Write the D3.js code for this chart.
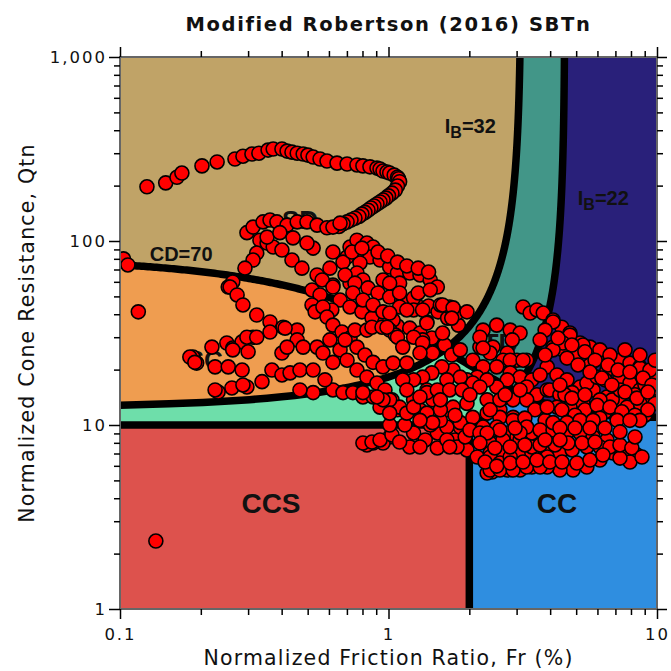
<!DOCTYPE html>
<html>
<head>
<meta charset="utf-8">
<script src="https://cdn.jsdelivr.net/npm/d3@7"></script>
<style>
  html, body { margin: 0; padding: 0; background: #ffffff; }
  svg { display: block; }
</style>
</head>
<body>
<svg id="chart" width="671" height="671"></svg>
<script>
// ---- CPT soundings plotted as [Fr (%), Qtn] ----
const outliers = [[0.103,80],[0.107,74.1],[0.117,41.2],[0.136,2.34]];

const arcUpper = [[0.126,197],[0.148,207],[0.163,222],[0.170,234],[0.202,256],[0.230,269],[0.268,279],
  [0.287,289],[0.310,297],[0.329,300],[0.356,312],[0.372,316],[0.401,316],[0.419,308],[0.437,304],
  [0.457,300],[0.481,297],[0.501,293],[0.524,286],[0.556,279],[0.590,272],[0.643,265],[0.701,262],
  [0.763,259],[0.803,256],[0.853,253],[0.906,249],[0.930,246],[0.954,240],[0.987,237],[1.01,234],
  [1.05,228],[1.08,222],[1.09,218],[1.10,210],[1.08,199]];

const arcReturn = [[1.06,189],[1.03,182],[1.00,176],[0.978,171],[0.954,167],[0.930,163],[0.906,159],
  [0.883,155],[0.860,151],[0.839,147],[0.817,143],[0.796,140],[0.776,136],[0.750,133],[0.725,130],
  [0.701,127],[0.677,124],[0.654,120]];

const sdCluster = [[0.297,111],[0.313,119],[0.341,127],[0.362,130],[0.384,127],[0.419,122],[0.457,127],
  [0.497,127],[0.542,122],[0.590,118],[0.621,119],[0.660,125],[0.332,101],[0.353,97.5],[0.372,92.7],
  [0.401,89.3],[0.437,78.8],[0.476,71.2],[0.542,65.4],[0.621,57.6],[0.524,91.5],[0.621,87.1],[0.701,81.8],
  [0.353,105],[0.394,111],[0.441,104],[0.497,97.5],[0.323,86.0],[0.313,78.8],[0.292,71.2],[0.263,59.9],
  [0.253,56.2]];

const cdCrossing = [[0.719,92.7],[0.763,101],[0.831,97.5],[0.876,92.7],[0.853,81.8],[0.930,78.8],
  [1.01,72.2],[1.08,67.0],[1.20,67.0],[1.31,65.4],[1.43,61.4],[1.52,56.2],[0.783,76.0],[0.763,67.0],
  [0.803,61.4],[0.954,61.4],[1.10,59.0],[0.719,59.0]];

const midBand = [[0.677,76.8],[0.731,87.1],[0.796,91.5],[0.914,87.1],[0.993,82.9],[1.08,76.8],[1.17,73.2],
  [1.29,71.2],[1.41,67.8],[0.689,65.4],[0.750,59.0],[0.839,55.6],[0.914,52.2],[1.01,49.6],[1.12,47.8],
  [1.26,46.0],[1.41,44.3],[1.53,41.2],[1.66,38.1],[1.82,34.9],[0.660,47.8],[0.719,43.8],[0.796,41.2],
  [0.868,38.1],[0.970,36.3],[1.08,34.5],[1.20,33.6],[1.31,31.6],[1.45,29.7],[1.62,27.2],[1.72,24.0],
  [0.605,71.2],[0.566,61.4],[0.519,54.2],[0.556,50.9],[0.615,42.2]];

const scTrace = [[0.257,56.2],[0.273,50.9],[0.287,44.9],[0.323,39.6],[0.362,36.3],[0.405,34.0],[0.457,32.8],
  [0.250,27.9],[0.263,26.2],[0.285,28.3],[0.300,25.0],[0.313,30.0],[0.220,26.5],[0.187,23.4],[0.193,21.7],
  [0.226,20.7],[0.253,20.7],[0.285,19.9],[0.297,16.1],[0.261,15.9],[0.232,15.1],[0.226,15.5],[0.338,17.2],
  [0.368,19.9],[0.401,18.7],[0.430,19.2],[0.468,19.9],[0.524,19.9],[0.401,24.6],[0.457,29.0],[0.362,32.0],
  [0.412,33.6],[0.519,44.9],[0.533,41.2],[0.570,43.8],[0.590,38.6],[0.621,34.9],[0.671,32.0],[0.719,29.7],
  [0.763,26.5],[0.817,24.0],[0.876,21.9],[0.954,20.7],[1.04,21.7],[0.621,56.2],[0.737,52.2],[0.803,47.8],
  [0.876,44.9],[0.954,41.2],[1.04,37.2],[0.605,29.0],[0.660,25.6],[0.701,22.5],[0.763,19.9],[0.831,18.2],
  [0.906,16.9],[0.970,15.5],[1.03,13.7],[1.08,12.1],[0.524,15.0],[0.621,15.5],[0.677,15.0],[0.737,15.0],
  [0.803,14.2],[0.876,14.2],[0.954,12.8],[0.287,16.5],[0.263,25.6],[0.182,23.4],[0.190,21.9],[0.297,30.0],
  [0.323,30.0],[0.419,26.5],[0.481,26.5],[0.542,26.5],[0.570,24.6],[0.621,21.9],[0.689,29.0],[0.750,32.8],
  [0.831,32.8],[0.868,34.0],[0.946,34.0],[1.01,32.8],[1.06,30.8]];

const lowTrace = [[1.01,8.61],[0.954,7.98],[0.876,7.98],[0.831,7.79],[0.803,7.98],[0.868,8.08],[0.930,8.29],
  [1.03,8.83],[1.24,9.05],[1.20,7.60],[1.52,9.05],[1.52,7.50],[1.77,8.29],[1.96,7.32],[1.80,7.60],
  [1.85,9.75],[1.65,9.75],[1.10,8.08],[1.37,8.29],[1.65,8.29],[1.93,8.61],[1.31,7.60],[1.69,7.60],
  [1.43,10.0],[1.15,10.0],[1.01,10.0]];

const transitionTrace = [[1.01,59.0],[1.10,52.2],[1.24,49.0],[1.29,52.2],[1.43,54.2],[1.56,44.9],[1.69,43.8],
  [1.80,40.6],[1.96,41.2],[1.39,36.3],[1.24,42.2],[1.10,43.8],[1.01,40.6],[0.987,34.0],[1.08,30.0],[1.34,29.0],
  [1.59,31.6],[1.85,25.6],[2.06,22.5],[2.25,20.7],[2.19,26.5],[2.25,32.8],[2.53,34.9],[2.84,32.8],[3.09,31.6],
  [2.45,26.5],[2.89,29.0],[2.77,24.6],[3.01,22.5],[3.27,22.5],[1.17,42.2],[1.34,42.2],[1.59,44.9],[1.74,43.3],
  [1.39,35.8],[1.72,38.1],[2.19,30.0],[2.39,24.6],[2.25,26.2],[2.67,22.5],[2.84,22.5],[3.17,22.5],[2.53,20.7],
  [2.84,19.2],[3.09,18.2],[3.42,17.6],[2.14,18.2],[1.96,17.6],[1.74,19.9],[1.58,20.7],[1.45,19.2],[1.34,18.2],
  [1.24,17.6],[1.13,17.6],[1.13,26.5],[1.24,30.0],[1.34,27.9],[1.46,24.6],[1.31,24.6],[1.17,21.7],[3.17,43.8],
  [3.37,40.6]];

const centerTrace = [[3.27,16.1],[3.57,14.6],[3.90,15.5],[2.77,17.6],[2.53,16.1],[2.33,17.6],[2.06,16.9],
  [1.85,18.2],[1.65,17.6],[1.52,15.0],[1.39,15.5],[1.24,13.7],[1.10,12.5],[1.01,13.7],[0.930,12.5],[1.65,12.1],
  [1.46,13.7],[1.39,15.0],[1.17,15.5],[0.954,13.7],[0.906,14.2],[0.803,15.0],[0.580,17.6],[0.468,15.5],
  [1.01,11.6],[1.17,11.6],[1.31,12.1],[1.56,10.6],[1.85,10.3],[2.06,11.0],[2.33,11.6],[2.60,12.1],[2.91,11.0],
  [1.52,15.5],[1.69,15.5],[1.88,15.5],[2.19,16.1],[2.33,13.7],[2.60,13.7],[2.91,13.7],[3.27,13.7],[1.96,13.1],
  [1.74,12.5],[1.56,12.1],[1.39,11.6],[1.24,12.5],[1.31,14.2],[1.46,10.3],[1.31,10.6],[2.60,11.0],[2.91,10.6],
  [2.25,9.75],[2.53,9.4],[2.77,9.05],[3.09,9.05],[3.42,9.05],[2.01,14.6],[2.39,12.1],[2.72,14.6],[3.09,15.5],
  [3.51,12.1],[3.83,10.6],[3.22,10.9],[2.01,9.4],[1.77,11.3],[1.56,13.7]];

const clayUpper = [[3.57,42.2],[3.77,40.6],[4.10,37.2],[4.42,34.0],[4.74,31.6],[5.17,27.9],[5.63,26.5],
  [6.13,23.4],[6.68,22.5],[7.28,22.5],[7.93,21.7],[8.64,20.7],[9.41,19.2],[9.84,18.2],[4.10,26.5],[4.46,25.6],
  [3.90,20.7],[4.24,18.7],[4.62,17.6],[5.17,16.1],[5.78,15.5],[6.51,14.2],[7.28,13.1],[8.14,12.5],[9.17,13.1],
  [9.67,14.2],[4.10,36.3],[4.74,30.8],[5.30,27.2],[6.13,25.6],[6.68,24.0],[8.64,20.4],[9.41,19.9],[4.46,27.9],
  [4.10,25.6],[3.99,15.5],[4.35,14.6],[4.83,15.0],[5.48,16.9],[5.98,18.2],[6.51,19.9],[7.28,18.2],[7.93,16.9],
  [8.64,15.5],[9.41,14.2],[9.84,13.1],[8.64,13.1],[7.73,12.5],[6.81,13.7],[6.13,13.7],[5.30,13.1],[4.74,12.5],
  [4.24,12.5],[3.90,12.5],[4.95,24.0],[5.63,21.2],[6.40,17.6],[7.28,15.5],[8.28,14.6],[9.02,16.5],[7.60,25.6],
  [8.64,24.0],[9.84,22.5],[4.54,14.6],[5.39,12.1],[6.40,11.8],[9.02,11.3],[9.84,15.9]];

const clayDense = [[3.83,32.8],[4.28,29.7],[4.82,27.2],[5.39,25.0],[5.88,22.5],[6.57,21.2],[7.16,19.9],
  [7.93,19.4],[8.87,18.0],[9.57,16.5],[4.62,23.1],[5.08,21.2],[5.63,19.4],[6.23,18.0],[6.79,16.5],[7.60,15.1],
  [8.42,14.0],[9.25,15.1],[4.35,16.5],[4.82,14.0],[5.39,14.6],[5.98,12.8],[6.68,12.5],[7.40,11.8],[8.28,11.3],
  [9.25,12.1],[3.67,29.0],[3.83,24.0],[3.67,18.7],[4.42,12.1],[4.95,11.3],[6.13,10.9],[8.64,10.6]];

const clayLower = [[2.53,9.75],[2.19,9.05],[2.39,7.98],[2.67,8.29],[3.01,8.61],[3.27,9.75],[3.67,9.4],
  [4.10,9.4],[4.62,9.05],[5.17,9.05],[5.78,8.61],[6.51,8.29],[6.86,7.04],[6.13,6.45],[5.48,5.91],[4.87,5.69],
  [4.35,5.69],[3.90,5.91],[3.42,5.91],[3.09,5.69],[2.77,5.69],[2.43,5.55],[2.33,5.48],[2.39,7.04],[2.67,7.04],
  [3.09,7.04],[3.42,7.04],[3.90,7.04],[4.35,7.04],[4.83,7.32],[5.48,7.60],[6.13,7.60],[6.68,7.60],[4.10,10.3],
  [4.62,10.3],[5.17,10.6],[5.78,10.6],[7.10,10.6],[7.93,10.6],[2.60,9.4],[2.33,9.05],[2.19,7.98],[2.14,6.70],
  [2.39,6.70],[2.60,6.21],[2.84,6.70],[3.09,8.29],[3.42,7.60],[3.90,6.70],[2.39,5.69],[2.60,5.69],[2.91,5.69],
  [3.27,5.91],[3.67,5.91],[3.09,9.05],[7.73,7.32],[8.42,6.87],[7.93,6.29]];

const ccDense = [[2.29,6.29],[2.53,5.98],[2.84,6.21],[3.17,6.29],[3.57,6.45],[3.99,6.29],[4.43,6.29],
  [5.03,6.21],[5.63,6.45],[6.29,6.87],[7.28,6.61],[2.49,7.50],[2.84,7.60],[3.22,7.79],[3.67,7.79],[4.17,7.79],
  [4.66,7.98],[5.26,7.98],[5.88,8.08],[7.28,7.79],[8.06,7.50],[2.96,9.63],[4.35,9.63],[4.95,9.63],[5.63,9.63],
  [6.40,9.63],[7.28,9.17],[8.28,8.61],[4.35,8.29],[3.83,8.29],[8.79,6.70]];

const soundings = [].concat(outliers, arcUpper, arcReturn, sdCluster, cdCrossing, midBand, scTrace, lowTrace,
  transitionTrace, centerTrace, clayUpper, clayDense, clayLower, ccDense);

// ---- axis ticks ----
const xMajor = [0.1, 1, 10];
const xTickLabels = ["0.1", "1", "10"];
const yMajor = [1, 10, 100, 1000];
const yTickLabels = ["1", "10", "100", "1,000"];

// ---- SBTn boundary parameters (Robertson 2016, modified) ----
const IB_SAND = 32, IB_CLAY = 22, CD_LIMIT = 70, QTN_CCS = 10, FR_CCS = 2;

// ---- zone styling ----
const zoneColors = { SD: "#c0a367", SC: "#ef9d50", TD: "#429688", TC: "#6edeaa",
                     CD: "#29207a", CC: "#2f8ee0", CCS: "#dd524d" };
const zoneLabels = [
  { text: "SD",  fr: 0.468, q: 116,  size: 26 },
  { text: "SC",  fr: 0.207, q: 20.1, size: 26 },
  { text: "TD",  fr: 2.60,  q: 24.6, size: 27 },
  { text: "CCS", fr: 0.365, q: 3.32, size: 28 },
  { text: "CC",  fr: 4.24,  q: 3.32, size: 28 }
];

const svg = d3.select("#chart");
const x = d3.scaleLog().domain([0.1, 10]).range([120, 657]);
const y = d3.scaleLog().domain([1, 1000]).range([609, 57]);
const [x0, x1] = x.range(), [y0, y1] = [y.range()[1], y.range()[0]];

const line = d3.line().x(d => x(d[0])).y(d => y(d[1]));

// boundary curves
const ibQ = (fr, ib) => (70 * ib - 1000) / (100 - ib * fr);
const ibFr = (q, ib) => (100 - (70 * ib - 1000) / q) / ib;
const cdQ = fr => 11 + CD_LIMIT / Math.pow(1 + 0.06 * fr, 17);
const steps = d3.range(0, 1.00001, 0.004);
const ibCurve = (ib, qStart) => steps.map(t => {
  const q = qStart * Math.pow(1000 / qStart, t);
  return [ibFr(q, ib), q];
});
const cdCurve = steps.map(t => { const fr = 0.1 * Math.pow(100, t); return [fr, cdQ(fr)]; });

const sandEdge = ibCurve(IB_SAND, ibQ(0.1, IB_SAND));
const clayEdge = ibCurve(IB_CLAY, ibQ(0.1, IB_CLAY));
const clayLine = ibCurve(IB_CLAY, QTN_CCS);

const sandPoly = sandEdge.concat([[0.1, 1000]]);
const clayPoly = [[0.1, 1]].concat(clayEdge, [[10, 1000], [10, 1]]);
const belowCD = cdCurve.concat([[10, 1], [0.1, 1]]);

const defs = svg.append("defs");
defs.append("clipPath").attr("id", "plotClip").append("rect")
  .attr("x", x0).attr("y", y0).attr("width", x1 - x0).attr("height", y1 - y0);
defs.append("clipPath").attr("id", "sandClip").append("path").attr("d", line(sandPoly) + "Z");
defs.append("clipPath").attr("id", "clayClip").append("path").attr("d", line(clayPoly) + "Z");

const plot = svg.append("g").attr("clip-path", "url(#plotClip)");

// transitional zone as base
plot.append("rect").attr("x", x0).attr("y", y0).attr("width", x1 - x0).attr("height", y1 - y0)
  .attr("fill", zoneColors.TD);
plot.append("path").attr("d", line(belowCD) + "Z").attr("fill", zoneColors.TC);

const sand = plot.append("g").attr("clip-path", "url(#sandClip)");
sand.append("rect").attr("x", x0).attr("y", y0).attr("width", x1 - x0).attr("height", y1 - y0)
  .attr("fill", zoneColors.SD);
sand.append("path").attr("d", line(belowCD) + "Z").attr("fill", zoneColors.SC);

const clay = plot.append("g").attr("clip-path", "url(#clayClip)");
clay.append("rect").attr("x", x0).attr("y", y0).attr("width", x1 - x0).attr("height", y1 - y0)
  .attr("fill", zoneColors.CD);
clay.append("path").attr("d", line(belowCD) + "Z").attr("fill", zoneColors.CC);

plot.append("rect")
  .attr("x", x(0.1)).attr("y", y(QTN_CCS))
  .attr("width", x(FR_CCS) - x(0.1)).attr("height", y(1) - y(QTN_CCS))
  .attr("fill", zoneColors.CCS);

// boundary lines
const bounds = plot.append("g").attr("fill", "none").attr("stroke", "#000").attr("stroke-width", 7.5);
bounds.append("path").attr("d", line(cdCurve));
bounds.append("path").attr("d", line(sandEdge));
bounds.append("path").attr("d", line(clayLine));
bounds.append("path").attr("d", line([[0.1, QTN_CCS], [ibFr(QTN_CCS, IB_CLAY), QTN_CCS]]));
bounds.append("path").attr("d", line([[FR_CCS, 1], [FR_CCS, QTN_CCS]]));

// zone labels
const labels = plot.append("g").attr("font-family", "'Liberation Sans', Arial, sans-serif")
  .attr("font-weight", "bold").attr("fill", "#111");
zoneLabels.forEach(z => {
  labels.append("text").attr("x", x(z.fr)).attr("y", y(z.q)).attr("text-anchor", "middle")
    .attr("font-size", z.size).text(z.text);
});
labels.append("text").attr("x", x(0.129)).attr("y", y(77.8)).attr("font-size", 20).text("CD=70");
function ibLabel(fr, q, value) {
  const t = labels.append("text").attr("x", x(fr)).attr("y", y(q)).attr("font-size", 20);
  t.append("tspan").text("I");
  t.append("tspan").attr("dy", 5).attr("font-size", 16).text("B");
  t.append("tspan").attr("dy", -5).text("=" + value);
}
ibLabel(1.62, 386, IB_SAND);
ibLabel(5.07, 157, IB_CLAY);

// soundings
plot.append("g").selectAll("circle").data(soundings).join("circle")
  .attr("cx", d => x(d[0])).attr("cy", d => y(d[1])).attr("r", 7)
  .attr("fill", "#ff0000").attr("stroke", "#000").attr("stroke-width", 1.6);

// frame
svg.append("rect").attr("x", x0).attr("y", y0).attr("width", x1 - x0).attr("height", y1 - y0)
  .attr("fill", "none").attr("stroke", "#666").attr("stroke-width", 2);

// axes
const xMinor = x.ticks().filter(v => !xMajor.includes(v));
const yMinor = y.ticks().filter(v => !yMajor.includes(v));
const tickFont = g => {
  g.select(".domain").remove();
  g.selectAll(".tick line").attr("stroke", "#000").attr("stroke-width", 1.5);
  g.selectAll(".tick text").attr("font-family", "'DejaVu Sans', Verdana, sans-serif")
    .attr("font-size", 16.5).attr("fill", "#111").style("letter-spacing", "2px");
};
svg.append("g").attr("transform", `translate(0,${y1})`)
  .call(d3.axisBottom(x).tickValues(xMinor).tickSize(6).tickFormat("")).call(tickFont);
svg.append("g").attr("transform", `translate(0,${y1})`)
  .call(d3.axisBottom(x).tickValues(xMajor).tickSize(10).tickPadding(9)
    .tickFormat((d, i) => xTickLabels[i])).call(tickFont);
svg.append("g").attr("transform", `translate(0,${y0})`)
  .call(d3.axisTop(x).tickValues(xMinor).tickSize(6).tickFormat("")).call(tickFont);
svg.append("g").attr("transform", `translate(0,${y0})`)
  .call(d3.axisTop(x).tickValues(xMajor).tickSize(10).tickFormat("")).call(tickFont);
svg.append("g").attr("transform", `translate(${x0},0)`)
  .call(d3.axisLeft(y).tickValues(yMinor).tickSize(6).tickFormat("")).call(tickFont);
svg.append("g").attr("transform", `translate(${x0},0)`)
  .call(d3.axisLeft(y).tickValues(yMajor).tickSize(11).tickPadding(2)
    .tickFormat((d, i) => yTickLabels[i])).call(tickFont);
svg.append("g").attr("transform", `translate(${x1},0)`)
  .call(d3.axisRight(y).tickValues(yMinor).tickSize(6).tickFormat("")).call(tickFont);
svg.append("g").attr("transform", `translate(${x1},0)`)
  .call(d3.axisRight(y).tickValues(yMajor).tickSize(10).tickFormat("")).call(tickFont);

// titles
svg.append("text").attr("x", (x0 + x1) / 2).attr("y", 31).attr("text-anchor", "middle")
  .attr("font-family", "'DejaVu Sans', Verdana, sans-serif").attr("font-weight", "bold")
  .attr("font-size", 19.5).style("letter-spacing", "1.6px").attr("fill", "#111")
  .text("Modified Robertson (2016) SBTn");
svg.append("text").attr("x", (x0 + x1) / 2).attr("y", 665).attr("text-anchor", "middle")
  .attr("font-family", "'DejaVu Sans', Verdana, sans-serif").attr("font-size", 20.5)
  .style("letter-spacing", "1.2px").attr("fill", "#111")
  .text("Normalized Friction Ratio, Fr (%)");
svg.append("text").attr("transform", `translate(34,${(y0 + y1) / 2}) rotate(-90)`)
  .attr("text-anchor", "middle")
  .attr("font-family", "'DejaVu Sans', Verdana, sans-serif").attr("font-size", 20.5)
  .style("letter-spacing", "1.2px").attr("fill", "#111")
  .text("Normalized Cone Resistance, Qtn");
</script>
</body>
</html>
